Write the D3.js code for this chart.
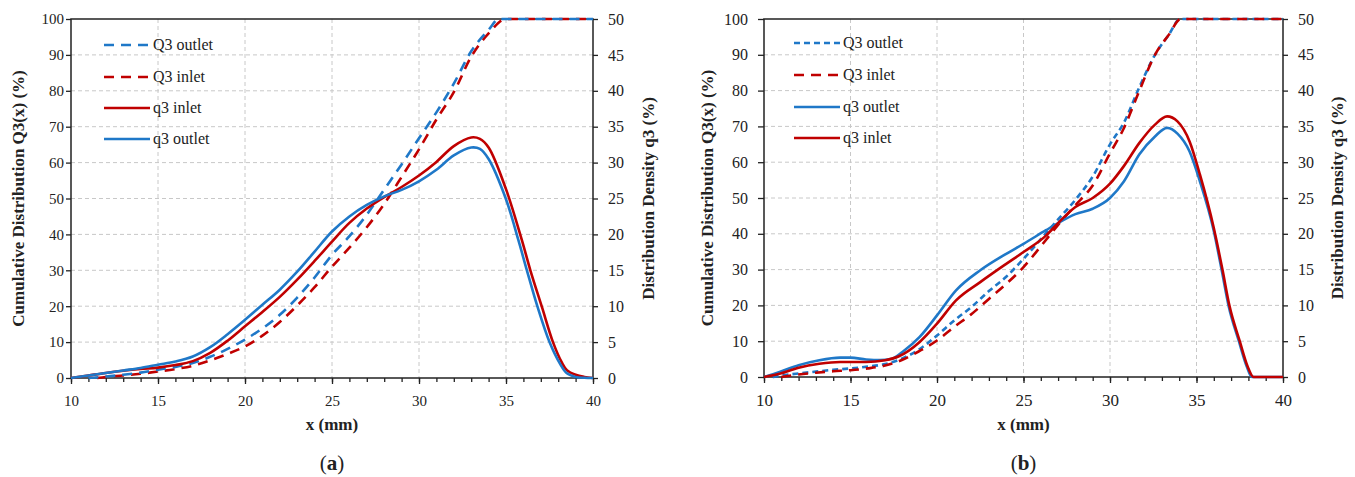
<!DOCTYPE html>
<html><head><meta charset="utf-8">
<script src="https://cdn.jsdelivr.net/npm/d3@7"></script>
<style>
body{margin:0;background:#fff}
svg{display:block}
text{font-family:"Liberation Serif","Times New Roman",serif;fill:#222}
</style>
</head><body>
<svg id="c" width="1355" height="477"></svg>
<script>
// ---------- tick labels ----------
const X_TICKS = [10, 15, 20, 25, 30, 35, 40];
const X_MINOR = d3.range(10, 41, 1);
const Q_TICKS = [0, 10, 20, 30, 40, 50, 60, 70, 80, 90, 100];
const D_TICKS = [0, 5, 10, 15, 20, 25, 30, 35, 40, 45, 50];

// ---------- panel (a) data: [x (mm), value] ----------
const aQ3Outlet = [[11,0],[12,0.4],[13,0.9],[14,1.5],[15,2.3],[16,3.1],[17,4.2],[18,5.9],[19,8.1],[20,10.7],[21,13.8],[22,17.6],[23,22.4],[24,28],[25,34.3],[26,39.5],[27,45.5],[28,52.5],[29,59.5],[30,66.8],[31,74],[32,82],[33,91],[34,97],[34.6,100],[37,100],[40,100]];
const aQ3Inlet  = [[11.5,0],[12,0.3],[13,0.7],[14,1.2],[15,1.8],[16,2.5],[17,3.4],[18,4.9],[19,6.7],[20,8.8],[21,11.8],[22,15.6],[23,20.2],[24,25.3],[25,31],[26,36.3],[27,42],[28,48.5],[29,56],[30,63.7],[31,72],[32,79.6],[33,89.5],[34,96],[35,100],[37.5,100],[40,100]];
const aq3Inlet  = [[10,0],[11,0.35],[12,0.7],[13,1.0],[14,1.25],[15,1.45],[16,1.8],[17,2.35],[18,3.5],[19,5.2],[20,7.2],[21,9.2],[22,11.3],[23,13.7],[24,16.3],[25,19],[26,21.6],[27,23.6],[28,25.2],[29,26.6],[30,28.2],[31,30.1],[32,32.3],[33,33.5],[33.5,33.3],[34,32.1],[35,26.3],[35.9,19.3],[36.4,15],[37.05,10],[37.7,5],[38.2,2.2],[38.5,1.1],[39,0.45],[39.5,0.15],[40,0]];
const aq3Outlet = [[10,0],[11,0.35],[12,0.7],[13,1.05],[14,1.4],[15,1.85],[16,2.3],[17,3.0],[18,4.3],[19,6.1],[20,8.1],[21,10.2],[22,12.3],[23,14.8],[24,17.6],[25,20.4],[26,22.5],[27,24.1],[28,25.3],[29,26.2],[30,27.4],[31,29],[32,31],[33,32.1],[33.5,31.9],[34,30.5],[35,24.9],[35.7,19.3],[36.2,15],[36.8,10],[37.5,5],[38.1,2],[38.5,0.65],[39,0.15],[39.5,0.03],[40,0]];

// ---------- panel (b) data ----------
const bQ3Outlet = [[10.5,0],[11,0.4],[12,1.0],[13,1.5],[14,2.0],[15,2.4],[16,2.9],[17,3.6],[18,5.2],[19,7.8],[20,11.6],[21,15.8],[22,19.6],[23,24],[24,28],[25,33],[26,38.5],[27,44],[28,49.5],[29,56],[30,65],[30.8,71],[31.7,81],[32.6,90],[33.4,95.6],[34.05,100],[37,100],[40,100]];
const bQ3Inlet  = [[11,0],[12,0.7],[13,1.2],[14,1.6],[15,1.9],[16,2.4],[17,3.2],[18,4.8],[19,7.3],[20,10.2],[21,14],[22,17.6],[23,21.8],[24,26],[25,30.7],[26,36.5],[27,42.5],[28,48],[29,53.5],[30,62.5],[30.8,69.5],[31.7,80],[32.6,90],[33.4,95.6],[34.1,100],[37,100],[40,100]];
const bq3Outlet = [[10,0],[10.9,0.7],[12,1.65],[13.2,2.35],[14.4,2.7],[15,2.7],[15.9,2.45],[16.7,2.35],[17.4,2.55],[18,3.5],[19,5.6],[20,8.6],[21.1,12.1],[22.5,14.9],[24,17.2],[25,18.6],[26.3,20.5],[27,21.5],[28,22.75],[29,23.5],[30,25],[30.8,27.3],[31.7,31.1],[32.6,33.6],[33.3,34.8],[33.9,34],[34.6,31.5],[35.2,27.3],[36,20.4],[36.45,15],[36.85,10],[37.45,5],[37.9,1.5],[38.2,0],[40,0]];
const bq3Inlet  = [[10,0],[10.9,0.45],[12,1.3],[13.2,1.85],[14.4,2.1],[15.9,2.1],[17,2.35],[17.8,2.9],[19,4.9],[20,7.45],[21.1,10.7],[22.5,13.25],[24,15.8],[25,17.45],[26.3,19.75],[27,21.5],[28,23.75],[29,25],[30,27],[30.8,29.45],[31.7,32.7],[32.6,35.25],[33.3,36.4],[33.9,35.7],[34.6,32.9],[35.2,28.25],[36,20.8],[36.5,15],[36.9,10],[37.5,5],[37.95,1.5],[38.3,0],[40,0]];

const BLUE = "#1f78c8", RED = "#c00000";
const SERIF = '"Liberation Serif","Times New Roman",serif';

const svg = d3.select("#c");

function drawPanel(cfg) {
  const g = svg.append("g");
  const x = d3.scaleLinear().domain([10, 40]).range([cfg.left, cfg.right]);
  const yQ = d3.scaleLinear().domain([0, 100]).range([cfg.bottom, cfg.top]);
  const yD = d3.scaleLinear().domain([0, 50]).range([cfg.bottom, cfg.top]);

  // grid
  const grid = g.append("g").attr("stroke", "#c8c8c8").attr("stroke-width", 1).attr("stroke-dasharray", "4,3");
  grid.selectAll("line.h").data(Q_TICKS.filter(v => v > 0 && v < 100)).join("line")
    .attr("x1", cfg.left).attr("x2", cfg.right).attr("y1", d => yQ(d)).attr("y2", d => yQ(d));
  grid.selectAll("line.v").data(X_TICKS.filter(v => v > 10 && v < 40)).join("line")
    .attr("y1", cfg.top).attr("y2", cfg.bottom).attr("x1", d => x(d)).attr("x2", d => x(d));

  // axes
  const axB = g.append("g").attr("transform", `translate(0,${cfg.bottom})`)
    .call(d3.axisBottom(x).tickValues(X_TICKS).tickSize(6).tickPadding(11).tickFormat(d3.format("d")));
  const axBm = g.append("g").attr("transform", `translate(0,${cfg.bottom})`)
    .call(d3.axisBottom(x).tickValues(X_MINOR).tickSize(4).tickFormat(""));
  const axL = g.append("g").attr("transform", `translate(${cfg.left},0)`)
    .call(d3.axisLeft(yQ).tickValues(Q_TICKS).tickSize(cfg.lTick).tickPadding(cfg.lPad));
  const axR = g.append("g").attr("transform", `translate(${cfg.right},0)`)
    .call(d3.axisRight(yD).tickValues(D_TICKS).tickSize(5).tickPadding(10));
  [axB, axBm, axL, axR].forEach(a => {
    a.attr("font-family", null).attr("font-size", null);
    a.select(".domain").remove();
    a.selectAll("line").attr("stroke", "#222").attr("stroke-width", 1.3);
    a.selectAll("text").attr("fill", "#333").attr("font-family", SERIF).attr("font-size", 16);
  });
  axL.selectAll("text").attr("font-family", cfg.lFont).attr("font-size", cfg.lSize);
  axB.selectAll("text").attr("font-family", cfg.bFont).attr("font-size", cfg.bSize);

  // frame
  g.append("rect").attr("x", cfg.left).attr("y", cfg.top)
    .attr("width", cfg.right - cfg.left).attr("height", cfg.bottom - cfg.top)
    .attr("fill", "none").attr("stroke", "#222").attr("stroke-width", 1.5);

  // lines
  const lineQ = d3.line().x(d => x(d[0])).y(d => yQ(d[1])).curve(d3.curveMonotoneX);
  const lineD = d3.line().x(d => x(d[0])).y(d => yD(d[1])).curve(cfg.densityCurve);
  cfg.series.forEach(s => {
    g.append("path").datum(s.data).attr("d", s.axis === "Q" ? lineQ : lineD)
      .attr("fill", "none").attr("stroke", s.color).attr("stroke-width", 2.6)
      .attr("stroke-dasharray", s.dash || null).attr("stroke-linejoin", "round");
  });

  // legend
  cfg.legend.forEach((s, i) => {
    const y = cfg.legY[i];
    g.append("line").attr("x1", cfg.legX).attr("x2", cfg.legX + 46).attr("y1", y).attr("y2", y)
      .attr("stroke", s.color).attr("stroke-width", 2.6).attr("stroke-dasharray", s.dash || null);
    g.append("text").attr("x", cfg.legX + 49).attr("y", y).attr("dy", "0.33em")
      .attr("font-family", SERIF).attr("font-size", 16).attr("fill", "#222").text(s.name);
  });

  // axis titles
  const cx = (cfg.left + cfg.right) / 2, cy = (cfg.top + cfg.bottom) / 2;
  g.append("text").attr("x", cx).attr("y", 430).attr("text-anchor", "middle")
    .attr("font-family", SERIF).attr("font-size", 17).attr("font-weight", "bold").text("x (mm)");
  g.append("text").attr("transform", `translate(${cfg.titleL},${cy}) rotate(-90)`)
    .attr("text-anchor", "middle").attr("dy", "0.35em").attr("font-family", SERIF)
    .attr("font-size", 17).attr("font-weight", "bold").text("Cumulative Distribution Q3(x) (%)");
  g.append("text").attr("transform", `translate(${cfg.titleR},${cy}) rotate(-90)`)
    .attr("text-anchor", "middle").attr("dy", "0.35em").attr("font-family", SERIF)
    .attr("font-size", 17).attr("font-weight", "bold").text("Distribution Density q3 (%)");
  const lab = g.append("text").attr("x", cx).attr("y", 470).attr("text-anchor", "middle")
    .attr("font-family", SERIF).attr("font-size", 21);
  lab.append("tspan").text("(");
  lab.append("tspan").attr("font-weight", "bold").text(cfg.tag);
  lab.append("tspan").text(")");
}

const dashA = "10,7";
const dashB = "6,4";

drawPanel({
  left: 71, right: 593, top: 19, bottom: 378, tag: "a",
  lTick: 5, lPad: 2, lFont: '"DejaVu Serif",serif', lSize: 15, bFont: '"DejaVu Serif",serif', bSize: 15,
  titleL: 18, titleR: 648, densityCurve: d3.curveCatmullRom.alpha(0.5),
  series: [
    {data: aQ3Inlet, axis: "Q", color: RED, dash: dashA},
    {data: aQ3Outlet, axis: "Q", color: BLUE, dash: dashA},
    {data: aq3Inlet, axis: "D", color: RED},
    {data: aq3Outlet, axis: "D", color: BLUE}
  ],
  legX: 104, legY: [45, 77, 108, 139],
  legend: [
    {name: "Q3 outlet", color: BLUE, dash: dashA},
    {name: "Q3 inlet", color: RED, dash: dashA},
    {name: "q3 inlet", color: RED},
    {name: "q3 outlet", color: BLUE}
  ]
});

drawPanel({
  left: 764, right: 1283, top: 19, bottom: 377, tag: "b",
  lTick: 6, lPad: 10, lFont: SERIF, lSize: 16, bFont: SERIF, bSize: 17,
  titleL: 707, titleR: 1337, densityCurve: d3.curveMonotoneX,
  series: [
    {data: bQ3Outlet, axis: "Q", color: BLUE, dash: dashB},
    {data: bQ3Inlet, axis: "Q", color: RED, dash: dashA},
    {data: bq3Outlet, axis: "D", color: BLUE},
    {data: bq3Inlet, axis: "D", color: RED}
  ],
  legX: 794, legY: [43, 75, 107, 138],
  legend: [
    {name: "Q3 outlet", color: BLUE, dash: dashB},
    {name: "Q3 inlet", color: RED, dash: dashA},
    {name: "q3 outlet", color: BLUE},
    {name: "q3 inlet", color: RED}
  ]
});
</script>
</body></html>
